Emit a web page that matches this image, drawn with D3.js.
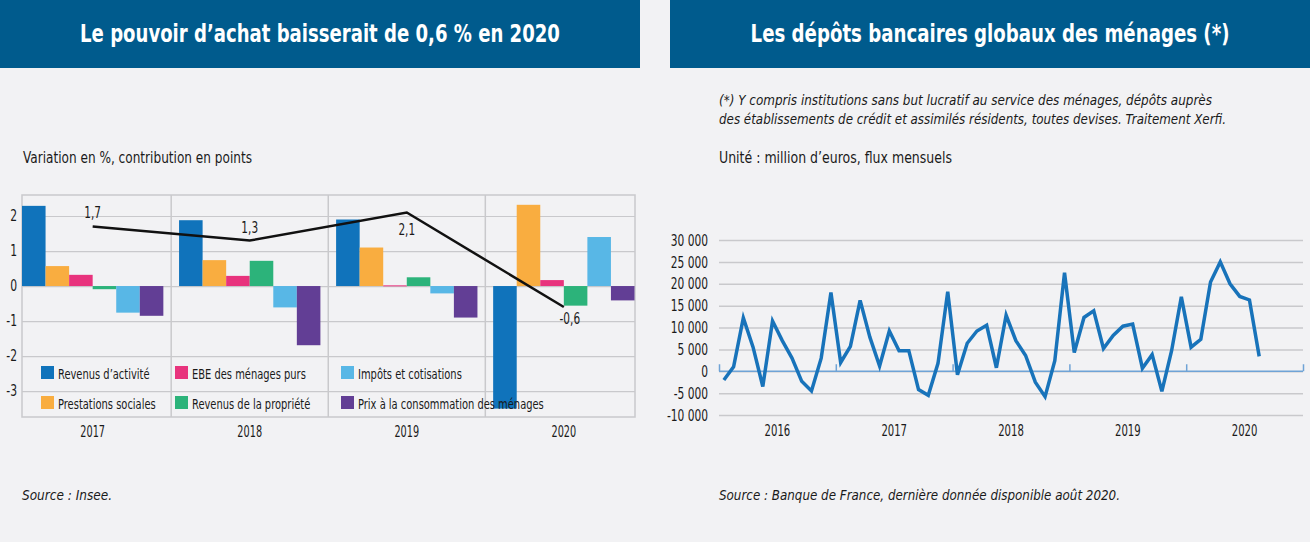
<!DOCTYPE html>
<html><head><meta charset="utf-8">
<script src="https://cdn.jsdelivr.net/npm/d3@7"></script>
<style>
html,body{margin:0;padding:0;background:#f2f2f4;}
svg{display:block;}
text{font-family:'DejaVu Sans',sans-serif;font-stretch:condensed;}
</style></head>
<body>
<svg id="chart" width="1310" height="542"></svg>
<script>
// ---------- Left chart data ----------
const years = ["2017", "2018", "2019", "2020"];
const seriesNames = ["Revenus d’activité", "Prestations sociales", "EBE des ménages purs", "Revenus de la propriété", "Impôts et cotisations", "Prix à la consommation des ménages"];
const seriesColors = ["#1073bb", "#f9ad40", "#e8337d", "#2cb37a", "#58b7e6", "#623e95"];
const revenusActivite = [2.29, 1.88, 1.90, -3.50];
const prestationsSociales = [0.57, 0.74, 1.10, 2.32];
const ebeMenages = [0.32, 0.29, 0.02, 0.17];
const revenusPropriete = [-0.09, 0.72, 0.25, -0.56];
const impotsCotisations = [-0.76, -0.61, -0.21, 1.40];
const prixConsommation = [-0.85, -1.69, -0.90, -0.41];
const pouvoirAchat = [1.7, 1.3, 2.1, -0.6];
const pouvoirAchatLabels = ["1,7", "1,3", "2,1", "-0,6"];
const leftTicks = [2, 1, 0, -1, -2, -3];

// ---------- Right chart data ----------
const depotYears = ["2016", "2017", "2018", "2019", "2020"];
const depots = [
  -2000, 1000, 12200, 5500, -3500, 11500, 7000, 3000, -2300, -4500, 3000, 18000,
  2000, 5700, 16200, 7800, 1200, 9200, 4700, 4700, -4200, -5500, 1800, 18200,
  -800, 6400, 9200, 10500, 800, 12800, 7000, 3600, -2500, -5800, 2400, 22500,
  4300, 12300, 13800, 5200, 8200, 10300, 10800, 700, 3800, -4600, 4700, 17000,
  5500, 7300, 20400, 25000, 20000, 17100, 16300, 3400
];
const rightTicks = [30000, 25000, 20000, 15000, 10000, 5000, 0, -5000, -10000];

const svg = d3.select("#chart");
const BLUE_HEAD = "#005b8d";
const GRID = "#c9c9cc";
const INK = "#1a1a1a";

// condense text horizontally (reference uses a condensed typeface)
function squeeze(sel, factor, target) {
  sel.each(function () {
    const w = this.getComputedTextLength();
    const t = target != null ? target : w * factor;
    this.setAttribute("textLength", t);
    this.setAttribute("lengthAdjust", "spacingAndGlyphs");
  });
}

// ---------- Headers ----------
function header(x0, x1, title, target) {
  svg.append("rect").attr("x", x0).attr("y", 0).attr("width", x1 - x0).attr("height", 68).attr("fill", BLUE_HEAD);
  const t = svg.append("text").attr("x", 0).attr("y", 0).attr("text-anchor", "middle")
    .attr("fill", "#fff").attr("font-size", 25).attr("font-weight", "bold").text(title);
  const w = t.node().getComputedTextLength();
  t.attr("transform", `translate(${(x0 + x1) / 2},42) scale(${target / w},1)`);
}
header(0, 640, "Le pouvoir d’achat baisserait de 0,6 % en 2020", 480);
header(670, 1310, "Les dépôts bancaires globaux des ménages (*)", 479);

// ---------- Left chart ----------
const L = {x0: 22, x1: 635, y0: 195, y1: 417};
const yL = d3.scaleLinear().domain([-3.74, 2.6]).range([L.y1, L.y0]);
const xL = d3.scaleBand().domain(years).range([22, 634.5]).paddingInner(0.1).paddingOuter(0);
const xInner = d3.scaleBand().domain(d3.range(6)).range([0, xL.bandwidth()]);

svg.append("text").attr("x", 23).attr("y", 163).attr("font-size", 16.5).attr("fill", INK)
  .text("Variation en %, contribution en points").call(squeeze, null, 229);

const gL = svg.append("g").attr("transform", `translate(${L.x0},0)`)
  .call(d3.axisLeft(yL).tickValues(leftTicks).tickSize(-(L.x1 - L.x0)).tickPadding(5)
    .tickFormat(d => (d < 0 ? "-" : "") + Math.abs(d)));
gL.select(".domain").remove();
gL.selectAll(".tick line").attr("stroke", GRID).attr("stroke-width", 1.2);
gL.selectAll(".tick text").attr("font-size", 15).attr("fill", INK).attr("font-family", null).call(squeeze, 0.8);

svg.append("rect").attr("x", L.x0).attr("y", L.y0).attr("width", L.x1 - L.x0).attr("height", L.y1 - L.y0)
  .attr("fill", "none").attr("stroke", GRID).attr("stroke-width", 1.5);
years.slice(1).forEach(y => {
  const xd = xL(y) - xL.step() * xL.paddingInner() / 2;
  svg.append("line").attr("x1", xd).attr("x2", xd).attr("y1", L.y0).attr("y2", L.y1)
    .attr("stroke", GRID).attr("stroke-width", 1.5);
});

const seriesVals = [revenusActivite, prestationsSociales, ebeMenages, revenusPropriete, impotsCotisations, prixConsommation];
seriesVals.forEach((vals, s) => {
  svg.append("g").selectAll("rect").data(vals).join("rect")
    .attr("x", (d, i) => xL(years[i]) + xInner(s))
    .attr("width", xInner.bandwidth())
    .attr("y", d => yL(Math.max(0, d)))
    .attr("height", d => Math.max(1, Math.abs(yL(d) - yL(0))))
    .attr("fill", seriesColors[s]);
});

const lineL = d3.line().x((d, i) => xL(years[i]) + xL.bandwidth() / 2).y(d => yL(d));
svg.append("path").datum(pouvoirAchat).attr("d", lineL).attr("fill", "none")
  .attr("stroke", "#111").attr("stroke-width", 2.5);
const labOff = [-9, -8, 22, 17];
svg.append("g").selectAll("text").data(pouvoirAchat).join("text")
  .attr("x", (d, i) => xL(years[i]) + xL.bandwidth() / 2 + (i === 3 ? 6 : 0))
  .attr("y", (d, i) => yL(d) + labOff[i])
  .attr("text-anchor", "middle").attr("font-size", 15).attr("fill", INK)
  .text((d, i) => pouvoirAchatLabels[i]).call(squeeze, 0.78);

const legPos = [[41, 373], [41, 403], [175, 373], [175, 403], [341, 373], [341, 403]];
seriesNames.forEach((n, s) => {
  const [lx, ly] = legPos[s];
  svg.append("rect").attr("x", lx).attr("y", ly - 7).attr("width", 13).attr("height", 13).attr("fill", seriesColors[s]);
  svg.append("text").attr("x", lx + 17).attr("y", ly + 5.5).attr("font-size", 14.5).attr("fill", INK).text(n)
    .call(squeeze, 0.76);
});

svg.append("g").selectAll("text").data(years).join("text")
  .attr("x", d => xL(d) + xL.bandwidth() / 2).attr("y", 437)
  .attr("text-anchor", "middle").attr("font-size", 15).attr("fill", INK).text(d => d).call(squeeze, 0.72);

svg.append("text").attr("x", 22).attr("y", 500).attr("font-size", 14).attr("font-style", "italic")
  .attr("fill", INK).text("Source : Insee.").call(squeeze, null, 90);

// ---------- Right chart ----------
svg.append("text").attr("x", 719).attr("y", 105).attr("font-size", 14.5).attr("font-style", "italic").attr("fill", INK)
  .text("(*) Y compris institutions sans but lucratif au service des ménages, dépôts auprès").call(squeeze, null, 493);
svg.append("text").attr("x", 719).attr("y", 124).attr("font-size", 14.5).attr("font-style", "italic").attr("fill", INK)
  .text("des établissements de crédit et assimilés résidents, toutes devises. Traitement Xerfi.").call(squeeze, null, 507);
svg.append("text").attr("x", 719).attr("y", 163).attr("font-size", 16.5).attr("fill", INK)
  .text("Unité : million d’euros, flux mensuels").call(squeeze, null, 233);

const R = {x0: 719, x1: 1303};
const xR = d3.scaleLinear().domain([0, depotYears.length * 12]).range([R.x0, R.x1]);
const yR = d3.scaleLinear().domain([-10000, 30000]).range([415, 240]);
const fmt = d => (d < 0 ? "-" : "") + d3.format(",")(Math.abs(d)).replace(/,/g, " ");

const gR = svg.append("g").attr("transform", `translate(${R.x0},0)`)
  .call(d3.axisLeft(yR).tickValues(rightTicks).tickSize(-(R.x1 - R.x0)).tickPadding(11).tickFormat(fmt));
gR.select(".domain").remove();
gR.selectAll(".tick line").attr("stroke", GRID).attr("stroke-width", 1.5);
gR.selectAll(".tick text").attr("font-size", 16).attr("fill", INK).attr("font-family", null).call(squeeze, 0.74);

const gX = svg.append("g").attr("transform", `translate(0,${yR(0)})`)
  .call(d3.axisTop(xR).tickValues(d3.range(0, depotYears.length * 12 + 1, 12)).tickSize(7).tickFormat(""));
gX.select(".domain").attr("stroke", "#6fa3d6").attr("stroke-width", 1.5).attr("d", `M${R.x0},0H${R.x1}`);
gX.selectAll(".tick line").attr("stroke", "#6fa3d6").attr("stroke-width", 1.5);

svg.append("g").selectAll("text").data(depotYears).join("text")
  .attr("x", (d, i) => xR(i * 12 + 6)).attr("y", 436).attr("text-anchor", "middle")
  .attr("font-size", 16).attr("fill", INK).text(d => d).call(squeeze, 0.7);

const lineR = d3.line().x((d, i) => xR(i + 0.5)).y(d => yR(d)).curve(d3.curveLinear);
svg.append("path").datum(depots).attr("d", lineR).attr("fill", "none")
  .attr("stroke", "#1873ba").attr("stroke-width", 3.5).attr("stroke-linejoin", "miter");

svg.append("text").attr("x", 719).attr("y", 500).attr("font-size", 14).attr("font-style", "italic")
  .attr("fill", INK).text("Source : Banque de France, dernière donnée disponible août 2020.").call(squeeze, null, 401);
</script>
</body></html>
